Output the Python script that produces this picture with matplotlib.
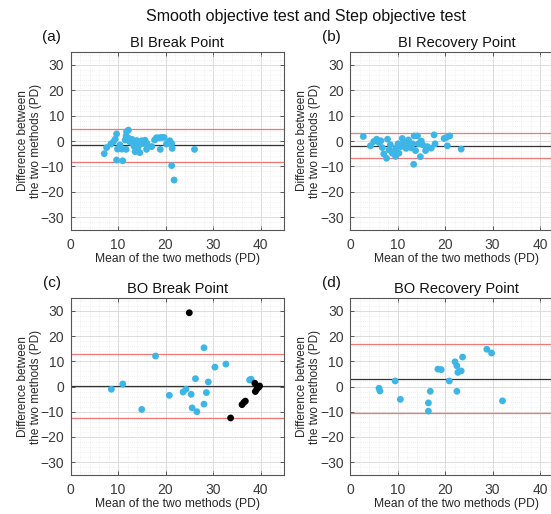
import matplotlib
matplotlib.use("Agg")
import matplotlib.pyplot as plt
from matplotlib.ticker import MultipleLocator

plt.rcParams["font.family"] = ["Liberation Sans", "DejaVu Sans"]

# (a) BI Break Point
a_x = [7.1, 7.6, 8.5, 9.0, 9.4, 9.7, 9.9, 9.7, 10.8, 11.0, 10.4, 11.5, 11.7, 11.8,
       12.2, 11.7, 12.2, 12.5, 12.9, 13.1, 13.4, 13.6, 14.1, 13.9, 14.6, 14.3, 15.0,
       15.4, 15.7, 16.0, 16.1, 17.1, 17.7, 18.1, 18.7, 18.9, 19.2, 19.7, 20.2, 20.6,
       20.9, 21.3, 21.4, 21.3, 21.8, 26.1]
a_y = [-5.0, -2.6, -1.2, -0.4, 0.7, 2.8, -3.2, -7.5, -3.2, -7.8, -1.6, 0.4, -3.3, 3.7,
       4.3, 2.0, 1.1, -0.3, 0.7, -1.0, -2.2, -4.2, -3.2, 0.2, -4.6, -2.0, 0.1,
       -1.0, 0.3, -3.3, -1.0, -2.2, 0.4, 1.3, 1.3, -3.3, 1.4, 1.4, -1.2, -0.5,
       0.1, -1.0, -2.9, -9.7, -15.4, -3.3]
a_mean, a_hi, a_lo = -1.7, 4.9, -8.2

# (b) BI Recovery Point
b_x = [2.8, 4.3, 5.0, 5.6, 6.1, 6.5, 6.8, 7.1, 7.9, 7.7, 8.2, 8.5, 8.9, 9.4, 9.6, 9.8,
       10.1, 10.3, 10.7, 11.0, 11.3, 11.8, 12.3, 12.5, 12.9, 13.2, 13.4, 13.5, 13.8,
       14.2, 14.4, 14.8, 15.0, 15.3, 15.9, 16.3, 17.1, 17.7, 17.9, 19.8, 20.3, 20.5,
       21.0, 23.4]
b_y = [1.8, -1.9, -0.2, 0.7, -0.6, 0.1, -2.6, -5.1, 0.7, -6.8, -3.5, -1.5, -4.8, -3.8,
       -6.1, -2.6, -1.1, -4.8, -2.2, 1.0, -0.8, -2.9, 0.4, -1.8, -2.7, -1.1, -9.2, 2.0,
       -3.8, 2.0, -1.1, -6.2, 0.0, -1.5, -3.8, -2.2, -2.8, 2.4, -1.1, 1.0, 1.4, -1.9,
       2.0, -3.2]
b_mean, b_hi, b_lo = -1.9, 3.1, -6.8

# (c) BO Break Point, smooth test (blue) and step test (black)
c_x = [8.6, 11.0, 15.0, 17.9, 20.8, 23.7, 24.3, 25.4, 25.6, 26.3, 26.6, 28.1, 28.1,
       28.6, 29.0, 30.4, 32.7, 37.7, 38.0]
c_y = [-1.1, 1.0, -9.1, 12.1, -3.5, -2.2, -1.1, -3.1, -8.5, 3.1, -10.0, -7.0, 15.4,
       -2.4, 1.8, 7.7, 8.9, 2.6, 2.9]
c_step_x = [25.0, 33.7, 36.1, 36.5, 36.8, 38.8, 38.9, 39.2, 39.6, 39.8]
c_step_y = [29.3, -12.5, -7.2, -6.3, -5.8, 1.3, -2.0, -1.1, -0.3, 0.2]
c_mean, c_hi, c_lo = 0.1, 12.8, -12.6

# (d) BO Recovery Point
d_x = [6.1, 6.3, 9.5, 10.6, 16.5, 16.5, 16.9, 18.5, 19.2, 20.9, 22.1, 22.5, 22.5,
       22.7, 23.4, 23.7, 28.8, 29.8, 32.1]
d_y = [-0.7, -1.8, 2.2, -5.1, -9.8, -6.5, -1.9, 6.9, 6.7, 2.2, 9.8, 8.2, -1.9,
       5.6, 6.2, 11.7, 14.8, 13.3, -5.7]
d_mean, d_hi, d_lo = 3.0, 16.8, -10.6

panels = [
    ("(a)", "BI Break Point", a_x, a_y, None, None, a_mean, a_hi, a_lo),
    ("(b)", "BI Recovery Point", b_x, b_y, None, None, b_mean, b_hi, b_lo),
    ("(c)", "BO Break Point", c_x, c_y, c_step_x, c_step_y, c_mean, c_hi, c_lo),
    ("(d)", "BO Recovery Point", d_x, d_y, None, None, d_mean, d_hi, d_lo),
]

W, H = 551, 514
fig = plt.figure(figsize=(W / 100, H / 100), dpi=100)

# axes boxes in pixels: left, top, width, height
boxes = [(70.5, 52.3, 213.8, 177.4), (350, 52.3, 213.8, 177.4),
         (70.5, 298.4, 213.8, 176.2), (350, 298.4, 213.8, 176.2)]

blue = "#3db5e6"
for (tag, title, x, y, sx, sy, m, hi, lo), (l, t, w, h) in zip(panels, boxes):
    ax = fig.add_axes([l / W, (H - t - h) / H, w / W, h / H])
    ax.set_xlim(0, 45)
    ax.set_ylim(-35, 35)
    ax.xaxis.set_major_locator(MultipleLocator(10))
    ax.yaxis.set_major_locator(MultipleLocator(10))
    ax.xaxis.set_minor_locator(MultipleLocator(2))
    ax.yaxis.set_minor_locator(MultipleLocator(2))
    ax.grid(True, which="major", color="#dcdcdc", lw=0.7)
    ax.grid(True, which="minor", color="#e4e4e4", lw=0.5, ls=(0, (1, 2)))
    ax.set_axisbelow(True)
    ax.tick_params(which="both", direction="in", top=True, right=True,
                   colors="#404040", labelcolor="#3a3a3a", labelsize=10)
    ax.tick_params(which="major", length=3, width=0.6)
    ax.tick_params(which="minor", length=0)
    ax.tick_params(axis="x", pad=6)
    ax.tick_params(axis="y", pad=4.5)
    for s in ax.spines.values():
        s.set_color("#555555")
        s.set_linewidth(0.8)
    ax.axhline(hi, color="#f07878", lw=0.9, zorder=2)
    ax.axhline(lo, color="#f07878", lw=0.9, zorder=2)
    ax.axhline(m, color="#333333", lw=0.9, zorder=2)
    ax.scatter(x, y, s=24, color=blue, edgecolors="none", zorder=3)
    if sx is not None:
        ax.scatter(sx, sy, s=24, color="black", edgecolors="none", zorder=4)
    ax.set_title(title, fontsize=10.5, color="#111111", pad=4)
    ax.set_xlabel("Mean of the two methods (PD)", fontsize=8.7, color="#262626")
    ax.xaxis.set_label_coords(0.5, -23.5 / h)
    ax.set_ylabel("Difference between\nthe two methods (PD)", fontsize=8.5,
                  color="#262626", linespacing=1.1)
    ax.yaxis.set_label_coords(-29 / w, 0.5)
    fig.text((l - 19) / W, 1 - (t - 15.5) / H, tag, fontsize=11, ha="center",
             va="center", color="#111111")

fig.text(306 / W, 1 - 16 / H, "Smooth objective test and Step objective test",
         fontsize=11.5, ha="center", va="center", color="#111111")

fig.savefig("out.png", dpi=100)
